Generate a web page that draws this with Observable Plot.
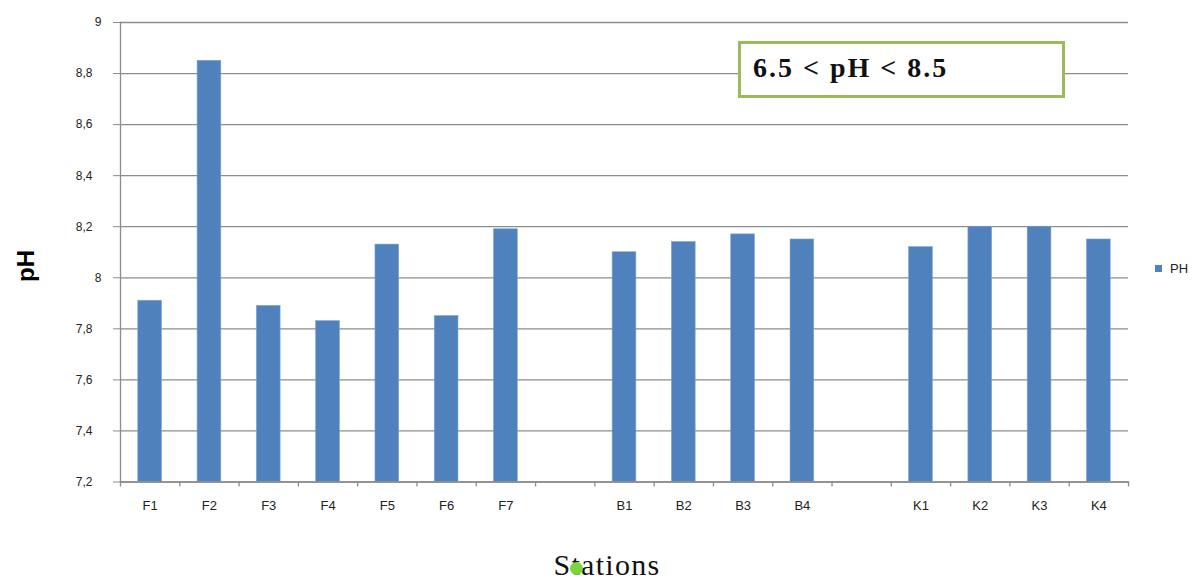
<!DOCTYPE html>
<html>
<head>
<meta charset="utf-8">
<script src="https://cdn.jsdelivr.net/npm/d3@7"></script>
<script src="https://cdn.jsdelivr.net/npm/@observablehq/plot@0.6"></script>
<style>
  html, body { margin: 0; padding: 0; background: #fff; }
  #wrap { position: relative; width: 1196px; height: 583px; overflow: hidden; }
  .ov { position: absolute; white-space: nowrap; }
  #ytitle { left: 26px; top: 266px; transform: translate(-50%, -50%) rotate(-90deg);
            font: bold 24px "Liberation Sans", Arial, sans-serif; color: #000; }
  #xtitle { left: 607px; top: 565px; transform: translate(-50%, -50%); line-height: 1;
            font: 30px "Liberation Serif", "Times New Roman", serif; letter-spacing: 1.3px; color: #111; }
  #note { left: 738px; top: 41px; width: 321px; height: 51px; border: 3px solid #9bbb59; background: #fff; }
  #note span { position: absolute; left: 12px; top: 8px; font: bold 28px "Liberation Serif", "Times New Roman", serif; letter-spacing: 2px; color: #111; }
  #legend { left: 1155px; top: 261px; font: 13px "Liberation Sans", Arial, sans-serif; color: #222; }
  #legend i { display: inline-block; width: 7px; height: 7px; background: #4f81bd; margin-right: 8px; vertical-align: 1px; }
  #dot { left: 570px; top: 562px; width: 13px; height: 13px; border-radius: 50%; background: #7cd33a; }
</style>
</head>
<body>
<div id="wrap"></div>
<script>
// ---- data ----
const categories = ["F1","F2","F3","F4","F5","F6","F7","gap1","B1","B2","B3","B4","gap2","K1","K2","K3","K4"];
const phValues   = [7.91, 8.85, 7.89, 7.83, 8.13, 7.85, 8.19, null, 8.10, 8.14, 8.17, 8.15, null, 8.12, 8.20, 8.20, 8.15];
const yTicks     = [7.2, 7.4, 7.6, 7.8, 8, 8.2, 8.4, 8.6, 8.8, 9];
const yTitle = "pH";
const xTitle = "Stations";
const seriesName = "PH";
const rangeNote = "6.5 < pH < 8.5";

const data = categories.map((c, i) => ({station: c, ph: phValues[i]})).filter(d => d.ph != null);

const W = 1196, H = 583;
const mL = 120, mR = 68, mT = 22, mB = 101.5;
const step = (W - mL - mR) / categories.length;
const gridColor = "#8c8c8c";
const fmt = d => String(d).replace(".", ",");
const decTicks = yTicks.filter(d => !Number.isInteger(d));
const intTicks = yTicks.filter(d => Number.isInteger(d));

const chart = Plot.plot({
  width: W, height: H,
  marginLeft: mL, marginRight: mR, marginTop: mT, marginBottom: mB,
  style: {fontFamily: "'Liberation Sans', Arial, sans-serif", fontSize: "12px", color: "#222", background: "white"},
  x: {type: "band", domain: categories, paddingInner: 0.6, paddingOuter: 0.3, round: false},
  y: {domain: [yTicks[0], yTicks[yTicks.length - 1]]},
  marks: [
    Plot.gridY(yTicks, {stroke: gridColor, strokeOpacity: 1, strokeWidth: 1.3}),
    Plot.barY(data, {x: "station", y1: yTicks[0], y2: "ph", fill: "#4f81bd", stroke: "#7ea3d2", strokeWidth: 0.6}),
    Plot.frame({anchor: "left", stroke: gridColor, strokeWidth: 1.3}),
    Plot.frame({anchor: "bottom", stroke: gridColor, strokeWidth: 1.3}),
    Plot.axisY(decTicks, {tickSize: 7, tickPadding: 21, tickFormat: fmt, stroke: gridColor, fill: "#222", label: null}),
    Plot.axisY(intTicks, {tickSize: 7, tickPadding: 12, tickFormat: fmt, stroke: gridColor, fill: "#222", label: null}),
    Plot.axisX(categories, {tickSize: 5, dx: -step / 2, stroke: gridColor, strokeWidth: 1.3, fill: "none", label: null}),
    Plot.axisX([categories[categories.length - 1]], {tickSize: 5, dx: step / 2, stroke: gridColor, strokeWidth: 1.3, fill: "none", label: null}),
    Plot.axisX(categories, {tickSize: 0, tickPadding: 19, fontSize: 13, fill: "#222",
      tickFormat: d => d.startsWith("gap") ? "" : d, label: null})
  ]
});

const wrap = document.getElementById("wrap");
wrap.appendChild(chart);

function add(id, html) {
  const el = document.createElement("div");
  el.id = id; el.className = "ov"; el.innerHTML = html;
  wrap.appendChild(el);
}
const esc = s => s.replace(/&/g, "&amp;").replace(/</g, "&lt;").replace(/>/g, "&gt;");
add("note", `<span>${esc(rangeNote)}</span>`);
add("ytitle", esc(yTitle));
add("xtitle", esc(xTitle));
add("legend", `<i></i>${esc(seriesName)}`);
add("dot", "");
</script>
</body>
</html>
